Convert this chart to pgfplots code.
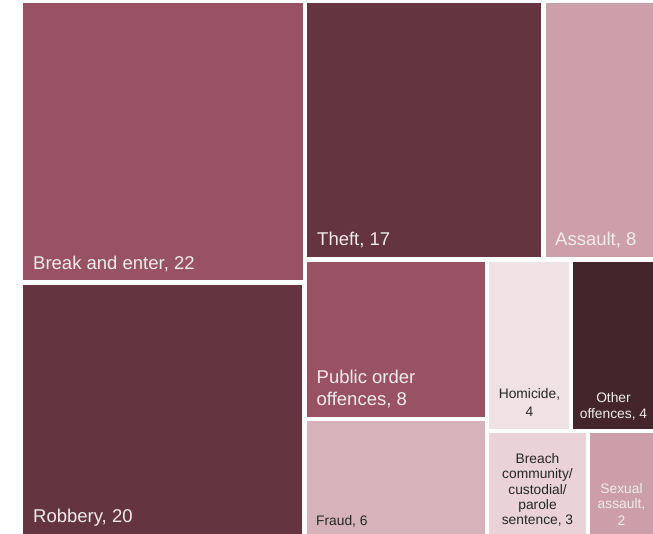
\documentclass[border=0pt]{standalone}
\usepackage{pgfplots}
\pgfplotsset{compat=1.18}
\usepackage{fontspec}
\setmainfont{Liberation Sans}
\definecolor{cBreak}{HTML}{985263}
\definecolor{cDark}{HTML}{643440}
\definecolor{cAssault}{HTML}{CC9FAA}
\definecolor{cFraud}{HTML}{D6B3BB}
\definecolor{cHom}{HTML}{F0E1E5}
\definecolor{cOther}{HTML}{43252B}
\definecolor{cBreach}{HTML}{E9D3D9}
\definecolor{cSex}{HTML}{CB9EA9}
\definecolor{tLight}{HTML}{F0ECED}
\definecolor{tDark}{HTML}{262626}
\begin{document}
\begin{tikzpicture}[
  big/.style={font=\fontsize{18.5bp}{22bp}\selectfont,text=tLight,inner sep=0pt},
  small/.style={font=\fontsize{13.8bp}{16bp}\selectfont,inner sep=0pt}]
\begin{axis}[width=653bp,height=534bp,scale only axis,xmin=0,xmax=653,ymin=0,ymax=534,
  y dir=reverse,hide axis,clip=false]
% Break and enter, 22
\addplot[fill=cBreak,draw=none] coordinates {(23,3.5)(303,3.5)(303,280)(23,280)} --cycle;
% Robbery, 20
\addplot[fill=cDark,draw=none] coordinates {(23,285)(302,285)(302,534)(23,534)} --cycle;
% Theft, 17
\addplot[fill=cDark,draw=none] coordinates {(306.5,3.5)(541,3.5)(541,257)(306.5,257)} --cycle;
% Assault, 8
\addplot[fill=cAssault,draw=none] coordinates {(545.5,3.5)(653,3.5)(653,257)(545.5,257)} --cycle;
% Public order offences, 8
\addplot[fill=cBreak,draw=none] coordinates {(306.5,261.5)(484.5,261.5)(484.5,416.5)(306.5,416.5)} --cycle;
% Fraud, 6
\addplot[fill=cFraud,draw=none] coordinates {(306.5,420.5)(484.5,420.5)(484.5,534)(306.5,534)} --cycle;
% Homicide, 4
\addplot[fill=cHom,draw=none] coordinates {(489,261.5)(568.5,261.5)(568.5,428.5)(489,428.5)} --cycle;
% Other offences, 4
\addplot[fill=cOther,draw=none] coordinates {(572.5,261.5)(653,261.5)(653,429)(572.5,429)} --cycle;
% Breach, 3
\addplot[fill=cBreach,draw=none] coordinates {(489,432.5)(586,432.5)(586,534)(489,534)} --cycle;
% Sexual assault, 2
\addplot[fill=cSex,draw=none] coordinates {(589.5,432.5)(653,432.5)(653,534)(589.5,534)} --cycle;

\path (rel axis cs:0,0) rectangle (rel axis cs:1,1);

\node[big,anchor=base west] at (axis cs:33,269.5) {Break and enter, 22};
\node[big,anchor=base west] at (axis cs:33,522) {Robbery, 20};
\node[big,anchor=base west] at (axis cs:317,245.5) {Theft, 17};
\node[big,anchor=base west] at (axis cs:555,245.5) {Assault, 8};
\node[big,anchor=base west] at (axis cs:316.5,383.5) {Public order};
\node[big,anchor=base west] at (axis cs:316.5,405.5) {offences, 8};
\node[small,text=tDark,anchor=base west] at (axis cs:316,525.5) {Fraud, 6};
\node[small,text=tDark,anchor=base] at (axis cs:529.5,398.5) {Homicide,};
\node[small,text=tDark,anchor=base] at (axis cs:529.5,416.7) {4};
\node[small,text=tLight,anchor=base] at (axis cs:613.5,402.7) {Other};
\node[small,text=tLight,anchor=base] at (axis cs:613.5,418.3) {offences, 4};
\node[small,text=tDark,anchor=base] at (axis cs:537.5,463.3) {Breach};
\node[small,text=tDark,anchor=base] at (axis cs:537.5,478.5) {community/};
\node[small,text=tDark,anchor=base] at (axis cs:537.5,494) {custodial/};
\node[small,text=tDark,anchor=base] at (axis cs:537.5,509.3) {parole};
\node[small,text=tDark,anchor=base] at (axis cs:537.5,524.5) {sentence, 3};
\node[small,text=tLight,anchor=base] at (axis cs:621.5,493.3) {Sexual};
\node[small,text=tLight,anchor=base] at (axis cs:621.5,508.5) {assault,};
\node[small,text=tLight,anchor=base] at (axis cs:621.5,525) {2};
\end{axis}
\end{tikzpicture}
\end{document}
